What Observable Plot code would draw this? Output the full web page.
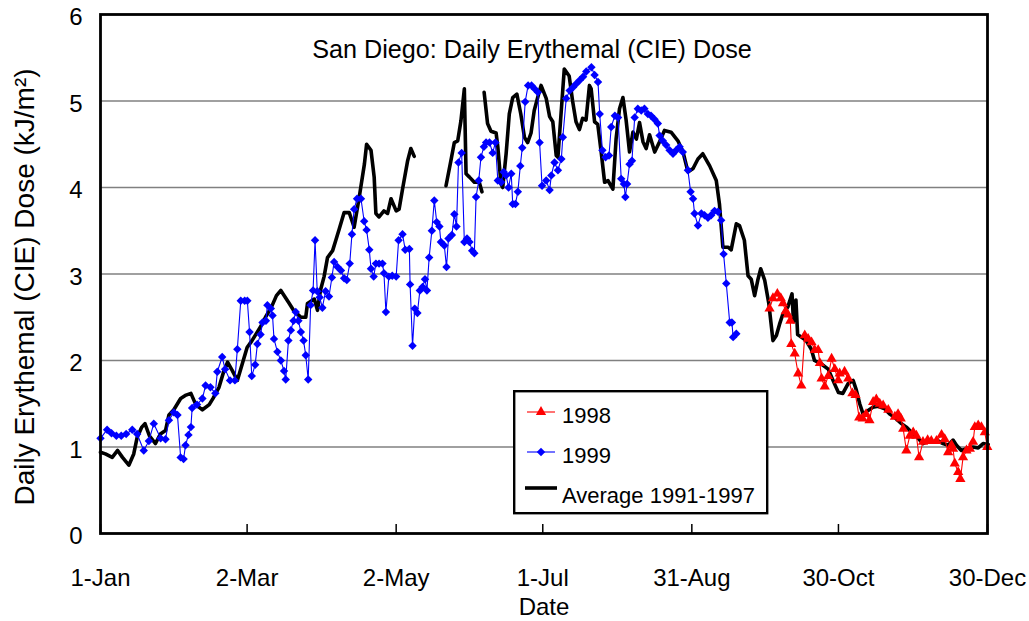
<!DOCTYPE html>
<html><head><meta charset="utf-8">
<script src="https://cdn.jsdelivr.net/npm/d3@7"></script>
<script src="https://cdn.jsdelivr.net/npm/@observablehq/plot@0.6"></script>
<style>
body{margin:0;background:#fff;font-family:Arial,"Liberation Sans",sans-serif}
#wrap{position:relative;width:1029px;height:621px;overflow:hidden}
#legend{position:absolute;left:513px;top:390px}
</style></head><body><div id="wrap"><div id="chart"></div><div id="legend"></div></div>
<script>
// Average 1991-1997 (day of year, dose); null = gap in record
const avg9197 = [
[1,0.94],[3,0.92],[5.8,0.88],[8,0.96],[10,0.88],[12.6,0.79],[14.6,0.92],[16,1.11],[17.9,1.23],[19.2,1.27],
[21,1.13],[23.5,1.04],[25.5,1.15],[27.6,1.19],[29,1.37],[31,1.43],[33.8,1.56],[36,1.60],[38,1.62],[40,1.49],
[42.7,1.43],[45.5,1.49],[47,1.56],[49.5,1.69],[51.5,1.88],[53,1.98],[55,1.88],[57,1.77],[59,1.96],[61,2.15],
[63,2.23],[66.5,2.39],[68.5,2.50],[71,2.62],[73,2.75],[74.8,2.81],[78,2.67],[80,2.58],[83,2.50],[85,2.50],
[85.7,2.66],[88.5,2.71],[89.8,2.58],[91,2.81],[92.5,2.97],[93.9,3.19],[96,3.27],[97.3,3.39],[98.7,3.52],[100.7,3.71],
[102.8,3.71],[104.8,3.54],[106.9,3.89],[109,4.27],[109.9,4.50],[111.7,4.43],[113,4.12],[113.7,3.70],[115,3.66],[117,3.73],
[118.5,3.70],[119.9,3.87],[122,3.73],[123.2,3.75],[124.6,3.98],[126.7,4.31],[128,4.45],[129.4,4.36],[135,null],
[142.4,4.02],[144.4,4.31],[145.8,4.52],[147.2,4.54],[148.5,4.77],[149.9,5.14],[150.6,4.16],[152,4.12],[154,4.06],[156,4.06],
[157.1,3.95],[157.5,null],
[158,5.10],[159.4,4.74],[160.8,4.65],[162.9,4.63],[163.6,4.47],[164.9,4.04],[165.6,4.00],[167,4.39],[168.3,4.85],[169.7,5.04],
[171.4,5.08],[173,4.85],[174.5,4.58],[175.8,4.52],[177.2,4.63],[178.5,4.89],[180,5.05],[181.3,5.18],[183.4,5.03],[184.8,4.82],
[186.1,4.76],[187.5,4.37],[188.2,4.35],[190.8,5.37],[192.8,5.29],[194.2,5.00],[195.6,4.76],[197,4.67],[198.3,4.80],[199.7,4.78],
[201.1,5.18],[201.8,5.14],[203.2,4.76],[204.5,4.73],[205.9,4.41],[207.3,4.06],[208.7,4.08],[210.7,3.98],[212,4.56],[213.4,4.91],
[214.8,5.04],[216.1,4.78],[217.5,4.41],[218.9,4.64],[220.3,4.56],[221.6,4.75],[223,4.53],[224.3,4.45],[225.7,4.61],[227.8,4.41],
[229.8,4.53],[231.8,4.66],[234.5,4.64],[237.3,4.54],[239.4,4.41],[241.4,4.18],[243.5,4.22],[245.5,4.33],[247.5,4.39],[250.3,4.25],
[253,4.08],[254.3,3.81],[255.7,3.31],[257.8,3.31],[259.1,3.28],[261.2,3.58],[262.5,3.56],[264.5,3.39],[266,2.98],[267.3,2.94],
[268.7,2.75],[270,2.93],[271.2,3.06],[272.8,2.93],[274.5,2.66],[276.2,2.23],[277.6,2.29],[278.9,2.42],[280.3,2.54],[282.3,2.62],
[284,2.77],[284.6,2.45],[285.6,2.70],[286.3,2.30],[287.8,2.27],[289.8,2.23],[291.9,2.13],[293.2,2.00],[296,1.96],[298.8,1.90],
[301.4,1.73],[303,1.63],[304.8,1.62],[306.9,1.73],[309,1.77],[310.3,1.66],[311.7,1.50],[313.1,1.38],[315,1.42],[317.1,1.46],
[319.2,1.47],[322,1.44],[324,1.38],[326.1,1.34],[328.8,1.27],[330.8,1.23],[332.9,1.17],[334.9,1.12],[337.6,1.04],[339.7,1.07],
[341.7,1.06],[343.8,1.07],[345.8,1.04],[347.9,1.02],[349.9,1.08],[351.3,1.02],[353.3,0.96],[355.4,0.98],[358.1,1.00],[360.2,0.99],
[362.2,1.04],[364.3,1.03]
];
// 1999 daily dose
const y1999 = [
[1,1.10],[3.7,1.20],[5.5,1.16],[7.5,1.13],[9.5,1.13],[11.5,1.15],[14,1.20],[16,1.15],[18.7,0.96],[20.8,1.07],
[22.8,1.27],[25.6,1.10],[27.6,1.09],[29,1.31],[31,1.40],[32.5,1.37],[33.8,0.88],[35,0.86],[35.8,1.02],[37,1.14],
[38,1.23],[38.5,1.45],[40.5,1.49],[42.7,1.56],[44,1.71],[46,1.69],[48,1.62],[48.8,1.87],[50.8,2.04],[52,1.90],
[54,1.77],[56,1.77],[57,2.13],[58.4,2.69],[60,2.69],[61.1,2.69],[62,2.33],[62.9,1.82],[64.3,1.95],[65.2,2.19],
[66.5,2.30],[67.3,2.44],[68.7,2.46],[69.3,2.64],[70.7,2.60],[71.4,2.52],[72,2.25],[73.4,2.10],[74.8,2.00],[76.1,1.88],
[76.8,1.78],[77.9,2.23],[78.9,2.35],[80,2.46],[80.9,2.56],[82,2.46],[83,2.33],[84.1,2.23],[85,2.06],[86,1.78],
[87,2.64],[88,2.81],[88.8,3.39],[89.7,2.80],[90.7,2.73],[91.8,2.61],[93.1,2.80],[94.5,2.74],[95.7,2.96],[96.6,3.14],
[98,3.08],[99.4,3.04],[100.7,2.95],[101.8,2.93],[103,3.12],[103.9,3.46],[104.8,3.75],[106,3.87],[107.6,3.87],[108.9,3.61],
[109.9,3.51],[111,3.28],[111.7,3.06],[112.8,2.97],[113.7,3.12],[115,3.12],[116.4,3.12],[117,3.01],[117.8,2.56],[119,2.97],
[120.4,2.98],[122,2.97],[123,3.39],[124.6,3.46],[125.7,3.28],[127.4,3.29],[127.7,2.88],[128.7,2.17],[129.6,2.60],[130.7,2.55],
[131.7,2.81],[132.8,2.85],[133.8,2.94],[134.6,2.81],[135.5,3.19],[136.6,3.50],[137.6,3.85],[138.6,3.60],[139.7,3.55],[140.3,3.37],
[141.7,3.33],[142.6,3.08],[143.4,3.41],[144.8,3.45],[145.8,3.69],[146.7,3.55],[147.5,4.29],[148.8,4.40],[149.9,3.37],[151,3.41],
[152,3.37],[153.1,3.27],[154,3.24],[154.7,3.89],[155.8,4.08],[156.7,4.35],[157.9,4.47],[158.8,4.52],[160.2,4.52],[161.5,4.40],
[162.6,4.52],[163.6,4.08],[165,4.06],[166,4.18],[167,4.14],[168,4.00],[169.1,4.16],[169.7,3.81],[170.8,3.81],[171.8,3.95],
[172.8,4.25],[173.6,4.46],[174.8,4.99],[176,5.18],[177.4,5.18],[178.7,5.14],[180,5.10],[180.7,4.52],[181.7,4.02],[183.4,4.08],
[184.8,3.97],[185.5,4.14],[186.8,4.29],[188.2,4.20],[189.6,4.33],[190.2,4.58],[191.6,5.03],[193,5.12],[194.4,5.16],[195.7,5.20],
[197.1,5.24],[198.5,5.28],[199.8,5.34],[201.9,5.39],[203.2,5.30],[204.6,5.22],[205.3,4.85],[206.4,4.43],[207.7,4.35],[209.1,4.37],
[210,4.70],[211.5,4.83],[212.8,4.81],[214.1,4.10],[215.2,4.04],[215.8,3.89],[216.5,4.04],[217.5,4.27],[218.5,4.31],[219.6,4.81],
[220.9,4.91],[222.3,4.89],[223.6,4.91],[225,4.85],[226.3,4.83],[227.7,4.79],[229.1,4.74],[229.8,4.60],[231.1,4.54],[232.5,4.49],
[233.9,4.43],[235.3,4.39],[236.6,4.43],[238,4.47],[239.3,4.41],[241.4,4.20],[242.5,3.95],[243.5,3.87],[244.1,3.70],[245.5,3.56],
[246.9,3.70],[248.2,3.68],[249.6,3.65],[250.9,3.68],[252.3,3.73],[253.7,3.72],[255,3.62],[256,3.23],[257.1,2.89],[258.5,2.44],
[259.4,2.44],[259.9,2.27],[261.2,2.31]
];
// 1998 daily dose
const y1998 = [
[274.8,2.60],[276.2,2.72],[278,2.77],[279.4,2.72],[280.3,2.66],[281.4,2.57],[282.3,2.53],[283.3,2.46],[283.7,2.19],[285.1,2.08],
[286.5,1.85],[287.8,1.71],[289.2,2.29],[290.6,2.25],[292,2.21],[293.3,2.12],[294.7,2.12],[295.4,1.97],[296.1,1.79],[297.4,1.70],
[298.8,1.82],[300.2,2.02],[301.5,1.90],[302.9,1.77],[303.5,1.85],[305.5,1.87],[307,1.79],[308.7,1.62],[310,1.60],[311.5,1.34],
[312.9,1.33],[314.3,1.38],[315.7,1.31],[317.2,1.52],[318.5,1.55],[319.9,1.50],[321.3,1.48],[323.4,1.43],[326.1,1.35],[327.4,1.38],
[328.5,1.33],[329.5,1.21],[330.8,0.96],[332.2,1.13],[333.6,1.17],[334.9,1.13],[336,0.88],[337.6,1.06],[339.5,1.08],[341,1.07],
[343.1,1.07],[345.2,1.14],[346.5,1.09],[347.9,0.94],[349.3,1.02],[349.9,0.98],[350.6,0.81],[352,0.71],[352.9,0.63],[354,0.88],
[355.4,0.96],[356.8,0.98],[358.1,1.06],[358.8,1.23],[360.2,1.25],[361.5,1.23],[362.9,1.17],[363.9,1.00]
];
const xTickDays = [1,61,122,182,243,303,364];
const xTickLabels = ["1-Jan","2-Mar","2-May","1-Jul","31-Aug","30-Oct","30-Dec"];
const yTicks = [0,1,2,3,4,5,6];
const gridValues = [1,2,3,4,5];
const seriesNames = ["1998","1999","Average 1991-1997"];
const seriesColors = ["#ff0000","#0000ff","#000000"];
const titleText = "San Diego: Daily Erythemal (CIE) Dose";
const yTitle = "Daily Erythemal (CIE) Dose (kJ/m²)";
const xTitle = "Date";

const rows = (arr) => arr.map(d => ({day: d[0], dose: d[1]}));
const avgRows = rows(avg9197), r99 = rows(y1999), r98 = rows(y1998);
const font = 'Arial, "Liberation Sans", sans-serif';

const chart = Plot.plot({
  width: 1029, height: 621,
  marginTop: 14, marginRight: 42, marginBottom: 88, marginLeft: 100,
  style: {fontFamily: font, color: "#000", background: "#fff", overflow: "visible"},
  x: {domain: [1, 364]},
  y: {domain: [0, 6]},
  marks: [
    Plot.ruleY(gridValues, {stroke: "#808080", strokeWidth: 1.5}),
    Plot.line(avgRows, {x: "day", y: "dose", stroke: seriesColors[2], strokeWidth: 3.6, strokeLinejoin: "round"}),
    Plot.line(r99, {x: "day", y: "dose", stroke: seriesColors[1], strokeWidth: 1.1}),
    Plot.dot(r99, {x: "day", y: "dose", symbol: "diamond2", r: 3.8, fill: seriesColors[1], stroke: null}),
    Plot.line(r98, {x: "day", y: "dose", stroke: seriesColors[0], strokeWidth: 1.1}),
    Plot.dot(r98, {x: "day", y: "dose", symbol: "triangle", r: 3.8, fill: seriesColors[0], stroke: null}),
    Plot.frame({stroke: "#000", strokeWidth: 2.8}),
    Plot.axisY({ticks: yTicks, tickSize: 0, tickPadding: 18, fontSize: 24, dy: 3, label: null, tickFormat: d => String(d)}),
    Plot.axisX({ticks: xTickDays, tickSize: -9, tickPadding: 44, fontSize: 24, label: null, strokeWidth: 1.5,
      tickFormat: d => xTickLabels[xTickDays.indexOf(d)]}),
    Plot.text([titleText], {frameAnchor: "top", dy: 35, dx: -12, fontSize: 25.2, lineAnchor: "middle"}),
    Plot.text([yTitle], {frameAnchor: "left", textAnchor: "middle", rotate: -90, dx: -75, dy: 13, fontSize: 28, lineAnchor: "middle"}),
    Plot.text([xTitle], {frameAnchor: "bottom", dy: 74, fontSize: 24, lineAnchor: "middle"})
  ]
});
document.getElementById("chart").appendChild(chart);

// Legend (boxed, overlaying the plot)
const lg = d3.select("#legend").append("svg").attr("width", 256).attr("height", 126)
  .style("font-family", font).style("overflow", "visible");
lg.append("rect").attr("x", 1.2).attr("y", 1.2).attr("width", 253).attr("height", 122)
  .attr("fill", "#fff").attr("stroke", "#000").attr("stroke-width", 2.4);
const rowY = [25, 65, 105];
seriesNames.forEach((name, i) => {
  const g = lg.append("g").attr("transform", `translate(0,${rowY[i]})`);
  if (i < 2) {
    g.append("line").attr("x1", 14).attr("x2", 42).attr("y1", -3).attr("y2", -3).attr("stroke", seriesColors[i]).attr("stroke-width", 1.1);
    const sym = i === 0 ? d3.symbolTriangle : d3.symbolDiamond2;
    g.append("path").attr("d", d3.symbol(sym, Math.PI * 3.8 * 3.8)()).attr("transform", "translate(28,-3)").attr("fill", seriesColors[i]);
  } else {
    g.append("line").attr("x1", 12).attr("x2", 44).attr("y1", -7).attr("y2", -7).attr("stroke", "#000").attr("stroke-width", 3.6);
  }
  g.append("text").attr("x", 49).attr("y", 0).attr("dy", "0.35em").attr("font-size", 22).text(name);
});
</script></body></html>
